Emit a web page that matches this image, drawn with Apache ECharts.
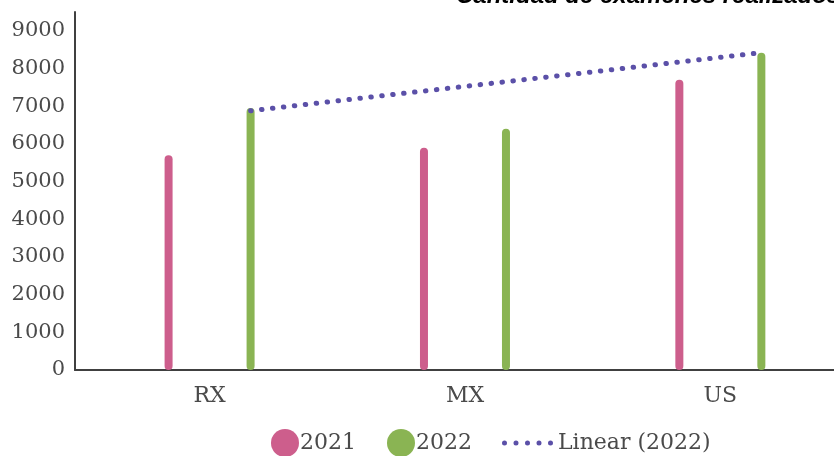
<!DOCTYPE html>
<html>
<head>
<meta charset="utf-8">
<script src="https://cdn.jsdelivr.net/npm/echarts@6/dist/echarts.min.js"></script>
<style>
  html, body { margin: 0; padding: 0; background: #fff; }
  #chart { width: 834px; height: 456px; }
</style>
</head>
<body>
<div id="chart"></div>
<script>
const categories = ['RX', 'MX', 'US']
const values2021 = [5700, 5900, 7700]
const values2022 = [6950, 6400, 8420]
// linear trend of 2022, read at the RX and US bars
const trendIndex = [0, 2]
const trendValues = [6880, 8420]
const yTicks = [0, 1000, 2000, 3000, 4000, 5000, 6000, 7000, 8000, 9000]

// x runs on a value axis so the axis line can start at the y axis
const xMin = -0.527
const xMax = 2.445
const barWidth = 8
const barGapPx = 74
const unitPx = 255.4
// green bar sits right of the category position by half of (bar + gap)
const greenOffset = (barWidth + barGapPx) / 2 / unitPx

const labelFont = 'DejaVu Serif'
const textColor = '#4a4a4a'
const trendColor = '#5B50A8'

// five dots for the trend legend
let dotsPath = 'path://'
for (let i = 0; i < 5; i++) {
  const cx = 2.5 + i * 11.5
  dotsPath += 'M' + (cx - 2.5) + ',2.5a2.5,2.5 0 1,0 5,0a2.5,2.5 0 1,0 -5,0Z'
}

const chart = echarts.init(document.getElementById('chart'))
chart.setOption({
  animation: false,
  title: {
    text: 'Cantidad de exámenes realizados',
    left: 451,
    top: -21,
    textStyle: {
      fontFamily: 'Liberation Sans',
      fontSize: 24,
      fontWeight: 'bold',
      fontStyle: 'italic',
      color: '#000'
    }
  },
  legend: [
    {
      data: ['2021', '2022'],
      left: 266,
      top: 424,
      icon: 'circle',
      itemWidth: 28,
      itemHeight: 28,
      itemGap: 31,
      textStyle: { fontFamily: labelFont, fontSize: 22, color: textColor, padding: [0, 0, 0, -4] }
    },
    {
      data: [{ name: 'Linear (2022)', icon: dotsPath }],
      left: 497,
      top: 427,
      itemWidth: 51,
      itemHeight: 5,
      itemStyle: { color: trendColor },
      textStyle: { fontFamily: labelFont, fontSize: 22, color: textColor, padding: [0, 0, 0, 0] }
    }
  ],
  grid: {
    left: 75,
    right: 0,
    top: 12,
    bottom: 86,
    containLabel: false
  },
  xAxis: {
    type: 'value',
    min: xMin,
    max: xMax,
    splitLine: { show: false },
    axisLine: { lineStyle: { color: '#404040', width: 2 } },
    axisTick: { show: false },
    axisLabel: {
      customValues: [0, 1, 2],
      fontFamily: labelFont,
      fontSize: 22,
      color: textColor,
      margin: 15,
      formatter: function (v) {
        return categories[Math.round(v)] || ''
      }
    }
  },
  yAxis: {
    type: 'value',
    min: 0,
    max: 9500,
    interval: 1000,
    axisLine: { show: true, onZero: false, lineStyle: { color: '#404040', width: 2 } },
    axisTick: { show: false },
    splitLine: { show: false },
    axisLabel: {
      fontFamily: labelFont,
      fontSize: 21,
      color: textColor,
      margin: 10,
      showMaxLabel: false,
      formatter: function (v) {
        return yTicks.indexOf(v) >= 0 ? String(v) : ''
      }
    }
  },
  series: [
    {
      name: '2021',
      type: 'bar',
      data: values2021.map((v, i) => [i, v]),
      barWidth: barWidth,
      barGap: (barGapPx / barWidth * 100) + '%',
      itemStyle: { color: '#CD5E8C', borderRadius: 4 }
    },
    {
      name: '2022',
      type: 'bar',
      data: values2022.map((v, i) => [i, v]),
      barWidth: barWidth,
      itemStyle: { color: '#8AB453', borderRadius: 4 }
    },
    {
      name: 'Linear (2022)',
      type: 'line',
      data: trendIndex.map((x, i) => [x + greenOffset, trendValues[i]]),
      symbol: 'none',
      z: 5,
      lineStyle: {
        color: trendColor,
        width: 5,
        type: [0.5, 10.5],
        cap: 'round'
      },
      itemStyle: { color: trendColor }
    }
  ]
})
</script>
</body>
</html>
